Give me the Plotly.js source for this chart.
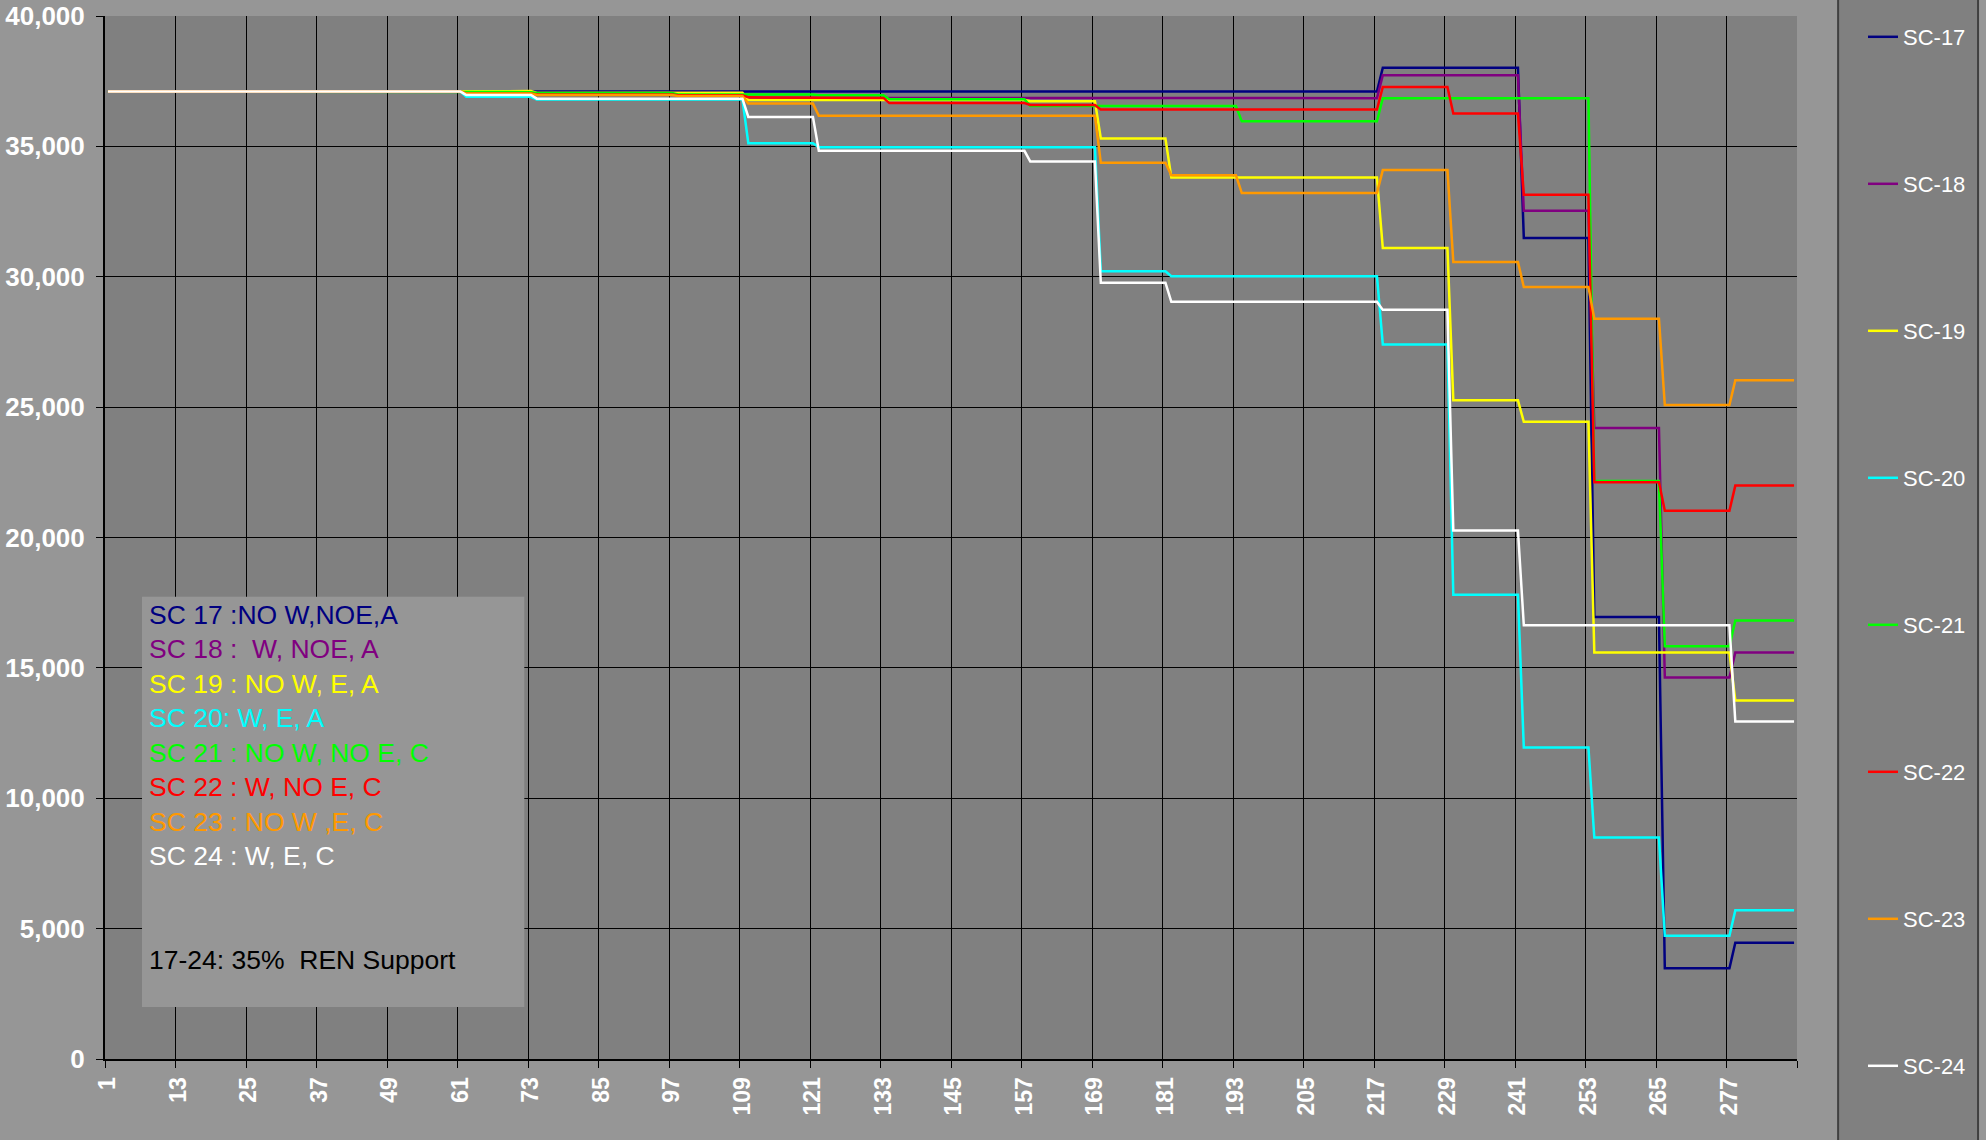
<!DOCTYPE html>
<html>
<head>
<meta charset="utf-8">
<script src="https://cdn.plot.ly/plotly-3.0.1.min.js"></script>
<style>
html,body{margin:0;padding:0;background:#969696;}
#chart{width:1986px;height:1140px;}
</style>
</head>
<body>
<div id="chart"></div>
<script>
// Month at which each yearly step begins (segment 0 = months 1-61)
const segmentStartMonths = [1, 62, 74, 86, 98, 110, 122, 134, 146, 158, 170, 182, 194, 206, 218, 230, 242, 254, 266, 278];
const lastMonth = 288;

// x-axis tick labels
const xTickLabels = ['1','13','25','37','49','61','73','85','97','109','121','133','145','157','169','181','193','205','217','229','241','253','265','277'];

// Series values, one per segment
const sc17 = [37100, 37100, 37100, 37100, 37100, 37100, 37100, 37100, 37100, 37100, 37100, 37100, 37100, 37100, 38020, 38020, 31490, 16950, 3480, 4460];
const sc18 = [37100, 37050, 37050, 37050, 37050, 36860, 36860, 36860, 36860, 36860, 36860, 36860, 36860, 36850, 37730, 37730, 32530, 24200, 14630, 15590];
const sc19 = [37100, 37120, 37050, 37050, 37060, 36780, 36770, 36780, 36780, 36730, 35300, 33810, 33810, 33810, 31100, 25260, 24440, 15590, 15590, 13750];
const sc20 = [37100, 36900, 36800, 36800, 36800, 35120, 34970, 34970, 34970, 34970, 30210, 30020, 30020, 30020, 27400, 17800, 11950, 8490, 4730, 5700];
const sc21 = [37100, 37080, 37050, 37050, 36990, 36990, 36960, 36810, 36810, 36545, 36545, 36545, 35960, 35960, 36850, 36850, 36850, 22170, 15830, 16820];
const sc22 = [37100, 37030, 36990, 36990, 36960, 36880, 36860, 36660, 36660, 36590, 36410, 36410, 36410, 36410, 37280, 36260, 33140, 22120, 21030, 21990];
const sc23 = [37100, 37030, 36970, 36970, 36930, 36640, 36170, 36170, 36170, 36170, 34370, 33890, 33210, 33210, 34090, 30570, 29610, 28390, 25080, 26030];
const sc24 = [37100, 36970, 36830, 36830, 36830, 36130, 34830, 34830, 34830, 34420, 29770, 29040, 29040, 29040, 28730, 20270, 16630, 16630, 16630, 12940];

const seriesNames = ['SC-17','SC-18','SC-19','SC-20','SC-21','SC-22','SC-23','SC-24'];
const seriesColors = ['#000080','#800080','#FFFF00','#00FFFF','#00FF00','#FF0000','#FF9900','#FFFFFF'];
const seriesValues = [sc17, sc18, sc19, sc20, sc21, sc22, sc23, sc24];

const noteLines = [
  'SC 17 :NO W,NOE,A',
  'SC 18 :&nbsp; W, NOE, A',
  'SC 19 : NO W, E, A',
  'SC 20: W, E, A',
  'SC 21 : NO W, NO E, C',
  'SC 22 : W, NO E, C',
  'SC 23 : NO W ,E, C',
  'SC 24 : W, E, C'
];
const noteFooter = '17-24: 35%&nbsp;&nbsp;REN Support';

function buildXY(vals) {
  const xs = [], ys = [];
  for (let k = 0; k < vals.length; k++) {
    const start = segmentStartMonths[k];
    const end = k < vals.length - 1 ? segmentStartMonths[k + 1] - 1 : lastMonth;
    xs.push(start, end);
    ys.push(vals[k], vals[k]);
  }
  return {xs, ys};
}

const traces = seriesValues.map((vals, i) => {
  const d = buildXY(vals);
  return {
    type: 'scatter',
    mode: 'lines',
    x: d.xs,
    y: d.ys,
    name: seriesNames[i],
    legendgroup: 'g' + i,
    line: {color: seriesColors[i], width: 2.5},
    hoverinfo: 'x+y+name'
  };
});

const tickVals = xTickLabels.map(l => parseInt(l, 10) - 0.5).concat([lastMonth + 0.5]);
const tickText = xTickLabels.concat(['']);

const FONT = 'Liberation Sans, Arial, sans-serif';

let noteHtml = noteLines.map((t, i) => '<span style="color:' + seriesColors[i] + '">' + t + '</span>').join('<br>');
noteHtml += '<br> <br> <br><span style="color:#000000">' + noteFooter + '</span>';

const layout = {
  width: 1986,
  height: 1140,
  paper_bgcolor: '#969696',
  plot_bgcolor: '#808080',
  margin: {l: 105, r: 189, t: 16, b: 81, pad: 0},
  font: {family: FONT, color: '#FFFFFF'},
  showlegend: true,
  xaxis: {
    range: [0.5, lastMonth + 0.5],
    tickmode: 'array',
    tickvals: tickVals,
    ticktext: tickText,
    tickangle: -90,
    ticklabelshift: 3,
    tickfont: {family: FONT, size: 23, color: '#FFFFFF', weight: 'bold'},
    ticks: 'outside',
    ticklen: 7,
    tickcolor: '#000000',
    showgrid: true,
    gridcolor: '#000000',
    gridwidth: 1,
    showline: true,
    linecolor: '#000000',
    linewidth: 2,
    zeroline: false,
    fixedrange: true
  },
  yaxis: {
    range: [0, 40000],
    dtick: 5000,
    tick0: 0,
    tickformat: ',d',
    tickfont: {family: FONT, size: 26, color: '#FFFFFF', weight: 'bold'},
    ticks: 'outside',
    ticklen: 7,
    ticklabelstandoff: 6,
    tickcolor: '#000000',
    showgrid: true,
    gridcolor: '#000000',
    gridwidth: 1,
    showline: true,
    linecolor: '#000000',
    linewidth: 2,
    zeroline: false,
    fixedrange: true
  },
  legend: {
    x: 1.039,
    xanchor: 'left',
    y: 1.0,
    yanchor: 'top',
    bgcolor: 'rgba(0,0,0,0)',
    borderwidth: 0,
    font: {family: FONT, size: 22, color: '#FFFFFF'},
    tracegroupgap: 115.4,
    maxheight: 1140,
    itemclick: false,
    itemdoubleclick: false
  },
  shapes: [
    {
      type: 'rect', xref: 'paper', yref: 'paper',
      x0: 1.0243, x1: 1.1070, y0: -0.1, y1: 1.05,
      fillcolor: '#808080',
      line: {color: '#404040', width: 2},
      layer: 'below'
    },
    {
      type: 'rect', xref: 'paper', yref: 'paper',
      x0: 0.02188, x1: 0.2478, y0: 0.0499, y1: 0.4432,
      fillcolor: '#969696',
      opacity: 1,
      line: {width: 0},
      layer: 'above'
    }
  ],
  annotations: [
    {
      xref: 'paper', yref: 'paper',
      x: 0.02543, y: 0.4412,
      xanchor: 'left', yanchor: 'top',
      showarrow: false,
      align: 'left',
      valign: 'top',
      borderpad: 0,
      font: {family: FONT, size: 26.5, color: '#FFFFFF'},
      text: noteHtml
    }
  ]
};

Plotly.newPlot('chart', traces, layout, {displayModeBar: false, staticPlot: false});
</script>
</body>
</html>
